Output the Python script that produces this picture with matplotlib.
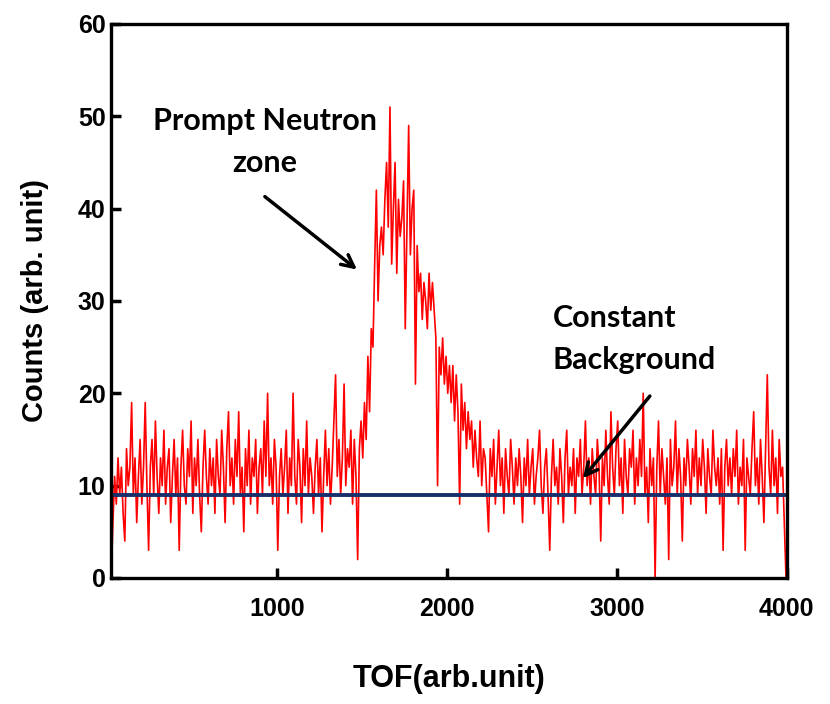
import numpy as np
import matplotlib
matplotlib.use("Agg")
import matplotlib.pyplot as plt

# counts per TOF channel (channel width 10, first channel at 25)
counts = [
    0, 6, 11, 8, 13, 9, 12, 7, 4, 14, 10, 12, 19, 9, 13, 6, 11, 15, 8, 12,
    19, 10, 3, 12, 15, 9, 17, 11, 7, 13, 10, 16, 8, 12, 14, 6, 11, 15, 9, 13,
    3, 12, 16, 10, 8, 14, 11, 17, 7, 13, 10, 15, 9, 5, 12, 16, 11, 8, 14, 10,
    13, 7, 15, 11, 9, 16, 12, 6, 14, 18, 10, 13, 8, 15, 11, 18, 9, 12, 5, 14,
    10, 16, 8, 13, 11, 15, 7, 12, 14, 9, 17, 11, 20, 10, 13, 8, 15, 12, 3, 11,
    14, 9, 12, 16, 7, 13, 10, 20, 11, 8, 15, 12, 6, 14, 10, 17, 9, 13, 11, 7,
    12, 15, 9, 13, 5, 11, 16, 10, 14, 8, 12, 17, 22, 11, 15, 9, 13, 21, 10, 14,
    12, 16, 8, 15, 11, 2, 14, 17, 13, 19, 15, 24, 18, 27, 25, 34, 42, 30, 36, 38,
    35, 41, 45, 38, 51, 34, 40, 45, 33, 41, 37, 39, 43, 27, 38, 49, 35, 40, 42, 21,
    36, 31, 33, 28, 32, 30, 27, 33, 29, 32, 29, 26, 10, 25, 22, 26, 21, 24, 20, 23,
    19, 23, 17, 22, 18, 8, 21, 16, 19, 14, 18, 15, 17, 12, 16, 13, 11, 17, 10, 14,
    13, 9, 5, 14, 11, 15, 8, 12, 16, 10, 13, 7, 14, 11, 9, 15, 12, 8, 13, 10,
    14, 11, 6, 13, 10, 15, 9, 12, 14, 8, 11, 13, 16, 10, 7, 12, 14, 9, 3, 11,
    15, 10, 12, 8, 14, 11, 6, 13, 16, 9, 12, 10, 14, 7, 13, 11, 15, 9, 12, 17,
    10, 13, 8, 14, 11, 9, 15, 12, 4, 13, 10, 16, 11, 8, 18, 12, 9, 14, 17, 10,
    13, 7, 15, 11, 9, 14, 12, 16, 8, 13, 10, 15, 11, 20, 9, 12, 6, 14, 10, 13,
    0, 12, 17, 9, 14, 11, 8, 13, 2, 15, 10, 12, 17, 9, 14, 11, 4, 13, 10, 15,
    12, 8, 14, 11, 16, 9, 13, 10, 15, 12, 7, 14, 11, 9, 16, 12, 10, 13, 8, 14,
    3, 12, 15, 10, 13, 9, 14, 11, 16, 8, 12, 10, 15, 3, 13, 11, 9, 14, 18, 10,
    13, 8, 15, 11, 6, 14, 22, 12, 9, 16, 10, 13, 7, 15, 11, 12, 6, 0,
]
tof = 25 + 10 * np.arange(len(counts))

background = 9
x_ticks = [1000, 2000, 3000, 4000]
y_ticks = [0, 10, 20, 30, 40, 50, 60]

tick_font = ['Liberation Sans', 'DejaVu Sans']
note_font = ['Lato', 'DejaVu Sans']

fig = plt.figure(figsize=(8.3, 7.04), dpi=100)
ax = fig.add_axes([0.134, 0.179, 0.814, 0.787])

ax.plot(tof, counts, color='red', lw=1.2)
ax.plot([tof[0], tof[-1]], [background, background], color='#172f6b', lw=2.8)

ax.set_xlim(25, 4000)
ax.set_ylim(0, 60)
ax.set_xticks(x_ticks)
ax.set_yticks(y_ticks)
ax.set_xticklabels([str(t) for t in x_ticks], family=tick_font, weight='bold', fontsize=18)
ax.set_yticklabels([str(t) for t in y_ticks], family=tick_font, weight='bold', fontsize=18)
ax.tick_params(direction='in', length=7, width=2.5)
ax.tick_params(axis='x', pad=14)
ax.tick_params(axis='y', pad=4)
for s in ax.spines.values():
    s.set_linewidth(2.4)

ax.set_xlabel('TOF(arb.unit)', family=tick_font, weight='bold', fontsize=22)
ax.set_ylabel('Counts (arb. unit)', family=tick_font, weight='bold', fontsize=21)
ax.xaxis.set_label_coords(0.5, -0.155)
ax.yaxis.set_label_coords(-0.092, 0.5)

arrow = dict(arrowstyle='->', lw=2.5, color='black', mutation_scale=22,
             shrinkA=0, shrinkB=0)

ax.text(929, 47.2, 'Prompt Neutron\nzone', ha='center', va='center',
        fontsize=22, weight='bold', family=note_font, linespacing=1.6)
ax.annotate('', xy=(1471, 33.4), xytext=(929, 41.3), arrowprops=arrow)

ax.text(2624, 25.9, 'Constant\nBackground', ha='left', va='center',
        fontsize=22, weight='bold', family=note_font, linespacing=1.6)
ax.annotate('', xy=(2800, 10.8), xytext=(3194, 19.7), arrowprops=arrow)

fig.savefig('out.png', dpi=100)
